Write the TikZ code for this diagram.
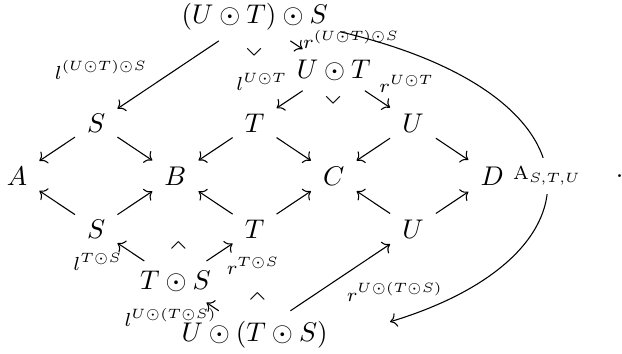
\documentclass[tikz,border=0pt]{standalone}
\usepackage{amssymb}
\usepackage{tikz}
\usetikzlibrary{cd, positioning}

\begin{document}
\begin{tikzpicture}[x=29.3pt, y=19.6pt, >={cm to},
    obj/.style={inner xsep=1ex, inner ysep=0.85ex},
    lbl/.style={font=\scriptsize, inner sep=1pt},
    corner/.style={rotate=-45, inner sep=0pt}]
    \useasboundingbox (-0.215,-0.358) rectangle (7.64,6.32);

    % Top: (U.T).S and U.T
    \node [obj] (uts) at (3,6) {$(U \odot T) \odot S$};
    \node [obj] (ut) at (4,5) {$U \odot T$};

    % Upper row
    \node [obj] (s1) at (1,4) {$S$};
    \node [obj] (t1) at (3,4) {$T$};
    \node [obj] (u1) at (5,4) {$U$};

    % Middle row
    \node [obj] (a) at (0,3) {$A$};
    \node [obj] (b) at (2,3) {$B$};
    \node [obj] (c) at (4,3) {$C$};
    \node [obj] (d) at (6,3) {$D$};

    % Lower row
    \node [obj] (s2) at (1,2) {$S$};
    \node [obj] (t2) at (3,2) {$T$};
    \node [obj] (u2) at (5,2) {$U$};

    % Bottom: T.S and U.(T.S)
    \node [obj] (ts) at (2,1) {$T \odot S$};
    \node [obj] (uts2) at (3,0) {$U \odot (T \odot S)$};

    % Corner marks
    \node [corner] (k1) at (3,5.4) {$\lrcorner$};
    \node [corner] (k2) at (4,4.49) {$\lrcorner$};
    \node [corner] (k3) at (2,1.57) {$\ulcorner$};
    \node [corner] (k4) at (3,0.6) {$\ulcorner$};

    % Arrows
    \draw [->] (uts) -- (s1);
    \draw [->] (uts) -- (ut);
    \draw [->] (ut) -- (t1);
    \draw [->] (ut) -- (u1);
    \foreach \m/\l/\r in {s1/a/b, t1/b/c, u1/c/d, s2/a/b, t2/b/c, u2/c/d} {
        \draw [->] (\m) -- (\l);
        \draw [->] (\m) -- (\r);
    }
    \draw [->] (ts) -- (s2);
    \draw [->] (ts) -- (t2);
    \draw [->] (uts2) -- (ts);
    \draw [->] (uts2) -- (u2);

    % Labels
    \node [lbl] (l1) at (1.06,5.0) {$l^{(U \odot T) \odot S}$};
    \node [lbl] (r1) at (4.22,5.57) {$r^{(U \odot T) \odot S}$};
    \node [lbl] (l2) at (3.09,4.77) {$l^{U \odot T}$};
    \node [lbl] (r2) at (4.92,4.74) {$r^{U \odot T}$};
    \node [lbl] (l3) at (1.02,1.38) {$l^{T \odot S}$};
    \node [lbl] (r3) at (2.98,1.3) {$r^{T \odot S}$};
    \node [lbl] (l4) at (1.94,0.32) {$l^{U \odot (T \odot S)}$};
    \node [lbl] (r4) at (4.77,0.81) {$r^{U \odot (T \odot S)}$};

    % Associator
    \coordinate (asfrom) at (4.08,5.72);
    \coordinate (asto) at (4.71,0.245);
    \draw [->] (asfrom) .. controls (7.46,4.53) and (7.46,1.49) .. (asto)
        node [pos=0.5, fill=white, font=\scriptsize] (assoc) {$\mathrm{A}_{S,T,U}$};

    \node (period) at (7.61,3) {$.$};
\end{tikzpicture}
\end{document}
